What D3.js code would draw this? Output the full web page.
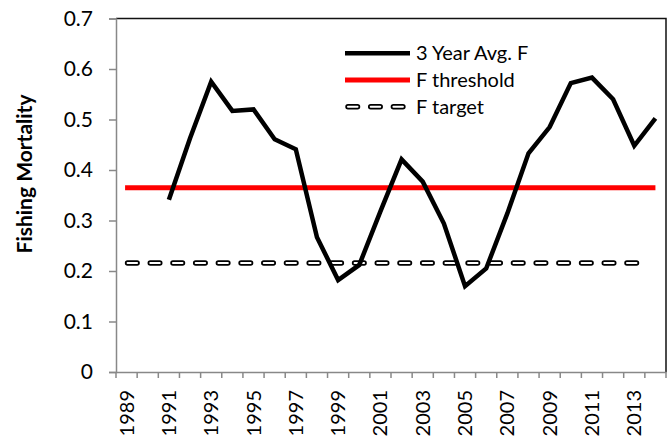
<!DOCTYPE html>
<html>
<head>
<meta charset="utf-8">
<script src="https://cdn.jsdelivr.net/npm/d3@7"></script>
<style>
  body { margin: 0; background: #fff; }
  text { font-family: Lato, "Open Sans", sans-serif; fill: #000; }
</style>
</head>
<body>
<script>
// chart data
const years = d3.range(1989, 2015);
const avgYears = d3.range(1991, 2015);
const avgF = [0.341, 0.463, 0.575, 0.517, 0.520, 0.461, 0.441, 0.267, 0.182, 0.212,
              0.318, 0.421, 0.377, 0.294, 0.170, 0.205, 0.314, 0.433, 0.485, 0.572,
              0.583, 0.540, 0.448, 0.502];
const fThreshold = 0.365;
const fTarget = 0.216;
const yTicks = [0, 0.1, 0.2, 0.3, 0.4, 0.5, 0.6, 0.7];
const labelYears = years.filter(d => d % 2 === 1);
const legendNames = ['3 Year Avg. F', 'F threshold', 'F target'];

const W = 670, H = 438;
const plot = { left: 116, right: 666, top: 18.5, bottom: 372 };

const svg = d3.select('body').append('svg')
  .attr('width', W)
  .attr('height', H);

const x = d3.scaleBand().domain(years).range([plot.left, plot.right]).padding(0);
const y = d3.scaleLinear().domain([0, 0.7]).range([plot.bottom, plot.top]);
const cx = d => x(d) + x.bandwidth() / 2;

// plot border (top / right)
svg.append('path')
  .attr('d', `M${plot.left},${plot.top}H${plot.right}V${plot.bottom}`)
  .attr('fill', 'none')
  .attr('stroke', '#111')
  .attr('stroke-width', 1.5);

// y axis
const yAxis = svg.append('g')
  .attr('transform', `translate(${plot.left},0)`)
  .call(d3.axisLeft(y).tickValues(yTicks).tickSize(7).tickPadding(16)
    .tickFormat(d => d === 0 ? '0' : d3.format('.1f')(d)));
yAxis.select('.domain').attr('stroke', '#888').attr('stroke-width', 1.5);
yAxis.selectAll('.tick line').attr('stroke', '#888').attr('stroke-width', 1.5);
yAxis.selectAll('.tick text').style('font-size', '21px');

// x axis
const xAxis = svg.append('g')
  .attr('transform', `translate(0,${plot.bottom})`)
  .call(d3.axisBottom(x).tickValues(labelYears).tickSize(0));
xAxis.select('.domain').attr('stroke', '#888').attr('stroke-width', 1.5);
xAxis.selectAll('.tick text')
  .style('font-size', '20px')
  .attr('transform', 'rotate(-90)')
  .attr('text-anchor', 'end')
  .attr('x', -18)
  .attr('y', 0)
  .attr('dy', '0.35em');

// x ticks between categories
xAxis.selectAll('.cat-tick')
  .data(years.map(d => x(d)).concat([plot.right]))
  .enter().append('line')
  .attr('class', 'cat-tick')
  .attr('x1', d => d).attr('x2', d => d)
  .attr('y1', 0).attr('y2', 6)
  .attr('stroke', '#888')
  .attr('stroke-width', 1.5);

// axis title
svg.append('text')
  .attr('transform', 'translate(32,174) rotate(-90)')
  .attr('text-anchor', 'middle')
  .style('font-size', '21px')
  .style('font-weight', 'bold')
  .text('Fishing Mortality');

const x0 = cx(years[0]) - 1.5, x1 = cx(years[years.length - 1]);

// F target (outlined dashes)
function targetLine(sel, xa, xb) {
  sel.append('line')
    .attr('x1', xa).attr('x2', xb).attr('y1', 0).attr('y2', 0)
    .attr('stroke', '#000').attr('stroke-width', 5.5)
    .attr('stroke-linecap', 'round')
    .attr('stroke-dasharray', '9.5 13.2');
  sel.append('line')
    .attr('x1', xa).attr('x2', xb).attr('y1', 0).attr('y2', 0)
    .attr('stroke', '#fff').attr('stroke-width', 2)
    .attr('stroke-linecap', 'round')
    .attr('stroke-dasharray', '9.5 13.2');
}
const tg = svg.append('g').attr('transform', `translate(0,${y(fTarget)})`);
targetLine(tg, x0 + 2.5, x1 - 6);

// F threshold
svg.append('line')
  .attr('x1', x0).attr('x2', x1)
  .attr('y1', y(fThreshold)).attr('y2', y(fThreshold))
  .attr('stroke', '#f00').attr('stroke-width', 5);

// 3 year average F
const line = d3.line().x((d, i) => cx(avgYears[i])).y(d => y(d));
svg.append('path')
  .datum(avgF)
  .attr('d', line)
  .attr('fill', 'none')
  .attr('stroke', '#000')
  .attr('stroke-width', 4.5)
  .attr('stroke-linejoin', 'miter');

// legend
const lg = svg.append('g');
const legY = [53.3, 80, 106.7];
legendNames.forEach((name, i) => {
  const g = lg.append('g').attr('transform', `translate(0,${legY[i]})`);
  if (i === 0) {
    g.append('line').attr('x1', 345).attr('x2', 410)
      .attr('stroke', '#000').attr('stroke-width', 4.5);
  } else if (i === 1) {
    g.append('line').attr('x1', 345).attr('x2', 410)
      .attr('stroke', '#f00').attr('stroke-width', 5);
  } else {
    targetLine(g, 348, 407);
  }
  g.append('text')
    .attr('x', 416)
    .attr('dy', '0.35em')
    .style('font-size', '20px')
    .text(name);
});
</script>
</body>
</html>
